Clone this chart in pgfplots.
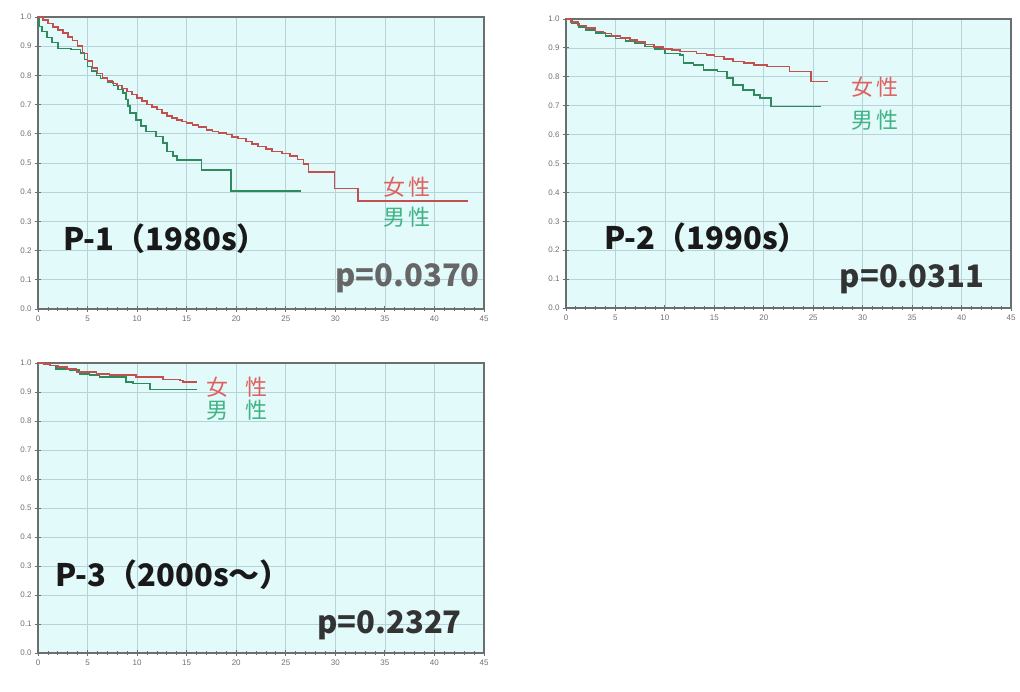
\documentclass[border=0pt]{standalone}
\usepackage{fontspec}
\usepackage{pgfplots}
\pgfplotsset{compat=1.18}
\setmainfont{Liberation Sans}
\newfontfamily\jp{Noto Sans CJK JP}
\definecolor{bgc}{HTML}{E3FAFA}
\definecolor{gridc}{HTML}{B6D3DA}
\definecolor{axc}{HTML}{6A6E6E}
\definecolor{tickc}{HTML}{707070}
\definecolor{redc}{HTML}{C2504E}
\definecolor{grnc}{HTML}{2F8B5E}
\definecolor{redt}{HTML}{E0605E}
\definecolor{grnt}{HTML}{3FB383}

\pgfplotsset{kmaxis/.style={
  scale only axis, anchor=south west,
  xmin=0, xmax=45, ymin=0, ymax=1,
  xtick={0,5,10,15,20,25,30,35,40,45},
  ytick={0,0.1,0.2,0.3,0.4,0.5,0.6,0.7,0.8,0.9,1.0},
  minor x tick num=4,
  xtick pos=bottom, ytick pos=left,
  tick align=center,
  grid=major,
  major grid style={gridc, line width=0.7pt},
  axis background/.style={fill=bgc},
  axis line style={axc, line width=1.3pt},
  tick style={axc, line width=0.8pt},
  major tick length=6pt, minor tick length=4pt,
  ticklabel style={font=\fontsize{8}{8}\selectfont, text=tickc},
  /pgf/number format/assume math mode=true,
  yticklabel style={/pgf/number format/.cd, fixed, fixed zerofill, precision=1},
  xticklabel style={/pgf/number format/.cd, fixed, precision=0},
  every axis plot/.append style={const plot, line width=1.6pt, mark=none, line join=miter},
}}

\pgfplotstableread{
t s
0 1.000
0.5 0.990
1.0 0.978
1.5 0.965
2.0 0.955
2.5 0.945
3.0 0.932
3.5 0.920
4.0 0.900
4.5 0.875
5.0 0.850
5.5 0.826
6.0 0.806
6.5 0.792
7.0 0.780
7.5 0.772
8.0 0.765
8.5 0.755
9.0 0.745
9.5 0.735
10.0 0.723
10.5 0.712
11.0 0.700
11.5 0.692
12.0 0.683
12.5 0.671
13.0 0.660
13.5 0.654
14.0 0.648
14.5 0.642
15.0 0.637
15.6 0.630
16.2 0.624
17.0 0.614
17.6 0.608
18.2 0.602
19.0 0.597
19.6 0.590
20.2 0.584
21.0 0.574
21.6 0.566
22.2 0.557
23.0 0.548
23.6 0.540
24.6 0.533
25.4 0.524
26.2 0.512
26.8 0.497
27.3 0.470
29.9 0.413
32.3 0.370
43.4 0.370
}\pa

\pgfplotstableread{
t s
0 1.000
0.1 0.968
0.4 0.950
0.9 0.930
1.4 0.912
2.0 0.892
3.3 0.888
4.3 0.877
4.7 0.855
5.0 0.830
5.4 0.814
5.9 0.800
6.3 0.790
7.0 0.778
7.6 0.765
8.1 0.751
8.6 0.740
8.9 0.717
9.1 0.695
9.3 0.671
9.9 0.648
10.4 0.626
10.9 0.608
11.9 0.591
12.6 0.568
13.0 0.540
13.6 0.523
14.0 0.511
16.5 0.477
19.5 0.405
26.5 0.405
}\pb

\pgfplotstableread{
t s
0 1.000
0.5 0.990
1.2 0.978
2.0 0.968
3.0 0.957
3.8 0.950
4.6 0.942
5.5 0.935
6.5 0.927
7.2 0.920
8.0 0.912
8.9 0.904
9.8 0.897
10.7 0.892
11.5 0.887
13.2 0.881
14.2 0.875
15.0 0.870
16.0 0.862
16.9 0.853
18.0 0.847
19.0 0.841
20.3 0.835
22.6 0.818
24.8 0.783
26.5 0.783
}\qa

\pgfplotstableread{
t s
0 1.000
0.6 0.985
1.3 0.972
2.0 0.962
3.0 0.952
4.0 0.942
5.0 0.933
6.0 0.924
7.0 0.915
8.0 0.905
9.0 0.896
10.0 0.881
11.5 0.876
11.9 0.847
12.9 0.841
13.9 0.824
15.3 0.818
16.3 0.795
16.9 0.772
17.9 0.755
19.0 0.737
19.6 0.726
20.7 0.697
25.8 0.697
}\qb

\pgfplotstableread{
t s
0 1.000
0.6 0.996
1.2 0.992
2.0 0.986
2.9 0.980
3.9 0.969
5.9 0.963
7.2 0.958
9.9 0.952
12.6 0.943
14.3 0.940
14.6 0.935
16.0 0.935
}\ra

\pgfplotstableread{
t s
0 1.000
0.6 0.996
1.2 0.992
1.8 0.980
3.2 0.975
4.2 0.963
5.2 0.958
6.2 0.952
8.9 0.935
9.6 0.929
11.3 0.908
16.0 0.908
}\rb

\begin{document}
\begin{tikzpicture}[x=1pt,y=1pt]
\useasboundingbox (0,0) rectangle (1020,692);

% Panel 1
\begin{axis}[kmaxis, at={(38pt,383pt)}, width=446pt, height=292pt]
\addplot[grnc] table[x=t,y=s] {\pb};
\addplot[redc] table[x=t,y=s] {\pa};
\end{axis}

% Panel 2
\begin{axis}[kmaxis, at={(566pt,384pt)}, width=445pt, height=289pt]
\addplot[grnc] table[x=t,y=s] {\qb};
\addplot[redc] table[x=t,y=s] {\qa};
\end{axis}

% Panel 3
\begin{axis}[kmaxis, at={(38pt,39pt)}, width=446pt, height=290pt]
\addplot[grnc] table[x=t,y=s] {\rb};
\addplot[redc] table[x=t,y=s] {\ra};
\end{axis}

% Panel 1 texts
\node[text=redt, font=\jp\fontsize{22}{22}\selectfont] at (407,505) {女\hspace{3pt}性};
\node[text=grnt, font=\jp\fontsize{22}{22}\selectfont] at (407,475) {男\hspace{3pt}性};
\node[text=black!90, font=\jp\bfseries\fontsize{31}{31}\selectfont] at (165.5,453.5) {P-1（1980s）};
\node[text=black!60, font=\jp\bfseries\fontsize{31}{31}\selectfont] at (407.5,413.5) {p=0.0370};

% Panel 2 texts
\node[text=redt, font=\jp\fontsize{22}{22}\selectfont] at (875,604.5) {女\hspace{3pt}性};
\node[text=grnt, font=\jp\fontsize{22}{22}\selectfont] at (875,572) {男\hspace{3pt}性};
\node[text=black!90, font=\jp\bfseries\fontsize{31}{31}\selectfont] at (706.5,454.5) {P-2（1990s）};
\node[text=black!80, font=\jp\bfseries\fontsize{31}{31}\selectfont] at (912,413) {p=0.0311};

% Panel 3 texts
\node[text=redt, font=\jp\fontsize{22}{22}\selectfont] at (237,304.5) {女\hspace{17pt}性};
\node[text=grnt, font=\jp\fontsize{22}{22}\selectfont] at (237,282) {男\hspace{17pt}性};
\node[text=black!90, font=\jp\bfseries\fontsize{31}{31}\selectfont] at (173,117) {P-3（2000s～）};
\node[text=black!80, font=\jp\bfseries\fontsize{31}{31}\selectfont] at (389.5,67) {p=0.2327};
\end{tikzpicture}
\end{document}
